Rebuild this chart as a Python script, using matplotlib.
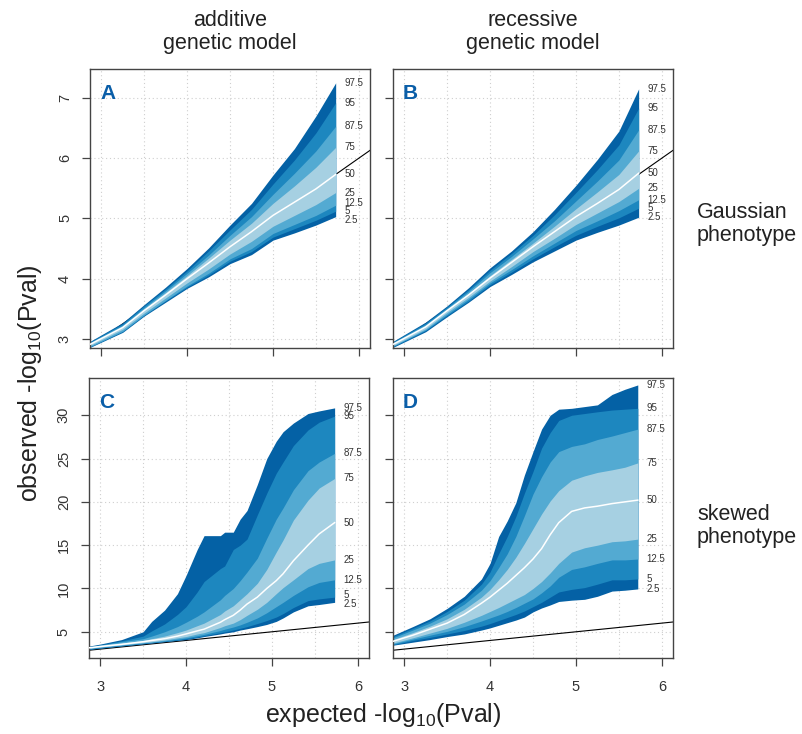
import matplotlib.pyplot as plt
import numpy as np

plt.rcParams['font.family'] = ['Liberation Sans', 'DejaVu Sans']
plt.rcParams['mathtext.fontset'] = 'custom'
plt.rcParams['mathtext.rm'] = 'Liberation Sans'

pct_names = ['97.5', '95', '87.5', '75', '50', '25', '12.5', '5', '2.5']
band_colors = ['#0461a5', '#1d87bf', '#53aad2', '#a6d0e2']
letter_color = '#0a5ea8'

# panel A: additive model, gaussian phenotype
a_x = [2.87, 3.25, 3.5, 3.75, 4.0, 4.25, 4.5, 4.75, 5.0, 5.25, 5.5, 5.73]
a_p975 = [2.96, 3.27, 3.57, 3.86, 4.17, 4.51, 4.89, 5.25, 5.72, 6.16, 6.70, 7.25]
a_p95 = [2.95, 3.25, 3.55, 3.83, 4.13, 4.46, 4.81, 5.15, 5.57, 5.97, 6.42, 6.92]
a_p875 = [2.94, 3.23, 3.52, 3.80, 4.09, 4.39, 4.72, 5.03, 5.40, 5.75, 6.12, 6.53]
a_p75 = [2.92, 3.21, 3.50, 3.77, 4.05, 4.34, 4.64, 4.92, 5.25, 5.54, 5.85, 6.18]
a_p50 = [2.91, 3.19, 3.47, 3.73, 4.00, 4.26, 4.53, 4.78, 5.05, 5.27, 5.49, 5.73]
a_p25 = [2.89, 3.16, 3.43, 3.68, 3.93, 4.16, 4.41, 4.62, 4.87, 5.05, 5.23, 5.43]
a_p125 = [2.87, 3.13, 3.40, 3.64, 3.88, 4.09, 4.33, 4.50, 4.75, 4.90, 5.05, 5.22]
a_p5 = [2.87, 3.12, 3.39, 3.63, 3.86, 4.06, 4.29, 4.45, 4.69, 4.83, 4.97, 5.12]
a_p025 = [2.86, 3.11, 3.38, 3.61, 3.84, 4.03, 4.25, 4.40, 4.64, 4.76, 4.89, 5.03]

# panel B: recessive model, gaussian phenotype
b_x = [2.87, 3.25, 3.5, 3.75, 4.0, 4.25, 4.5, 4.75, 5.0, 5.25, 5.5, 5.73]
b_p975 = [2.96, 3.28, 3.55, 3.85, 4.18, 4.46, 4.78, 5.15, 5.55, 5.98, 6.45, 7.15]
b_p95 = [2.95, 3.26, 3.53, 3.82, 4.14, 4.42, 4.72, 5.06, 5.43, 5.81, 6.22, 6.83]
b_p875 = [2.94, 3.24, 3.51, 3.79, 4.10, 4.37, 4.66, 4.96, 5.29, 5.62, 5.97, 6.47]
b_p75 = [2.92, 3.22, 3.49, 3.76, 4.05, 4.32, 4.59, 4.87, 5.16, 5.44, 5.73, 6.12]
b_p50 = [2.91, 3.20, 3.47, 3.73, 4.01, 4.27, 4.53, 4.78, 5.03, 5.25, 5.48, 5.75]
b_p25 = [2.89, 3.17, 3.44, 3.69, 3.96, 4.20, 4.45, 4.67, 4.90, 5.09, 5.28, 5.50]
b_p125 = [2.88, 3.15, 3.41, 3.66, 3.93, 4.15, 4.38, 4.59, 4.80, 4.96, 5.13, 5.31]
b_p5 = [2.87, 3.14, 3.39, 3.63, 3.90, 4.11, 4.33, 4.53, 4.72, 4.87, 5.01, 5.17]
b_p025 = [2.86, 3.12, 3.37, 3.61, 3.87, 4.07, 4.28, 4.46, 4.64, 4.77, 4.89, 5.02]

# panel C: additive model, skewed phenotype
c_x = [2.87, 3.0, 3.25, 3.5, 3.6, 3.75, 3.9, 4.0, 4.13, 4.21, 4.4, 4.45,
       4.55, 4.63, 4.71, 4.83, 4.94, 5.05, 5.13, 5.25, 5.42, 5.55, 5.73]
c_p975 = [3.35, 3.58, 4.1, 5.0, 6.2, 7.5, 9.4, 11.5, 14.5, 16.1, 16.1, 16.5,
          16.5, 18.0, 19.0, 22.0, 25.0, 27.0, 28.1, 29.1, 30.2, 30.5, 30.85]
c_p95 = [3.3, 3.5, 3.95, 4.5, 5.1, 5.9, 7.0, 7.9, 9.6, 10.8, 12.3, 12.6,
         14.5, 15.0, 15.7, 18.5, 21.0, 23.3, 24.6, 26.5, 28.3, 29.2, 29.9]
c_p875 = [3.25, 3.45, 3.85, 4.2, 4.5, 5.0, 5.6, 6.1, 6.8, 7.3, 8.7, 9.2,
          10.0, 10.9, 11.9, 13.5, 15.8, 18.0, 19.3, 21.4, 23.6, 24.6, 25.6]
c_p75 = [3.2, 3.4, 3.7, 4.0, 4.2, 4.5, 4.9, 5.2, 5.7, 6.0, 7.0, 7.4,
         8.0, 8.7, 9.4, 10.6, 12.2, 14.2, 15.6, 17.9, 20.2, 21.6, 22.7]
c_p50 = [3.15, 3.3, 3.55, 3.85, 4.0, 4.2, 4.5, 4.75, 5.1, 5.3, 6.1, 6.4,
         6.9, 7.5, 8.2, 9.0, 10.0, 10.9, 11.7, 13.2, 15.0, 16.3, 17.6]
c_p25 = [3.1, 3.25, 3.5, 3.75, 3.85, 4.05, 4.3, 4.45, 4.75, 4.9, 5.5, 5.7,
         6.0, 6.4, 6.9, 7.6, 8.4, 9.4, 10.1, 11.0, 12.3, 12.9, 13.3]
c_p125 = [3.05, 3.2, 3.45, 3.7, 3.8, 3.95, 4.15, 4.3, 4.55, 4.7, 5.15, 5.3,
          5.55, 5.8, 6.1, 6.6, 7.2, 7.9, 8.4, 9.2, 10.2, 10.7, 11.0]
c_p5 = [3.0, 3.15, 3.4, 3.65, 3.75, 3.9, 4.05, 4.2, 4.4, 4.55, 4.9, 5.0,
        5.2, 5.4, 5.6, 5.95, 6.3, 6.7, 7.1, 7.8, 8.6, 8.8, 9.0]
c_p025 = [2.95, 3.1, 3.35, 3.6, 3.7, 3.85, 4.0, 4.1, 4.3, 4.45, 4.75, 4.85,
          5.0, 5.2, 5.35, 5.6, 5.85, 6.2, 6.6, 7.3, 8.0, 8.15, 8.4]

# panel D: recessive model, skewed phenotype
d_x = [2.87, 3.1, 3.3, 3.5, 3.7, 3.9, 4.0, 4.1, 4.2, 4.3, 4.4, 4.5,
       4.6, 4.7, 4.8, 4.95, 5.1, 5.25, 5.42, 5.57, 5.72]
d_p975 = [4.6, 5.6, 6.5, 7.7, 9.1, 11.1, 12.9, 16.0, 17.8, 19.9, 23.1, 25.8,
          28.4, 30.0, 30.7, 30.8, 31.0, 31.2, 32.4, 33.0, 33.5]
d_p95 = [4.45, 5.4, 6.25, 7.35, 8.65, 10.5, 11.9, 14.0, 16.0, 18.3, 21.0, 23.5,
         26.2, 28.0, 29.4, 30.0, 30.2, 30.4, 30.6, 30.7, 30.8]
d_p875 = [4.3, 5.2, 6.0, 7.0, 8.2, 9.8, 10.9, 12.4, 14.0, 16.0, 18.4, 20.9,
          22.9, 24.6, 25.8, 26.4, 26.7, 27.2, 27.6, 28.0, 28.4]
d_p75 = [4.1, 4.9, 5.65, 6.5, 7.6, 9.0, 9.9, 11.0, 12.2, 13.6, 15.2, 16.9,
         18.6, 20.1, 21.3, 22.5, 23.0, 23.4, 23.7, 24.0, 24.5]
d_p50 = [3.9, 4.6, 5.3, 6.0, 7.0, 8.3, 9.0, 9.8, 10.6, 11.5, 12.4, 13.4,
         14.6, 16.2, 17.6, 18.9, 19.3, 19.5, 19.8, 20.0, 20.2]
d_p25 = [3.7, 4.3, 4.85, 5.4, 6.1, 6.9, 7.35, 7.8, 8.3, 8.8, 9.3, 10.0,
         10.8, 11.8, 12.9, 14.2, 14.7, 15.0, 15.4, 15.5, 15.7]
d_p125 = [3.6, 4.15, 4.6, 5.05, 5.6, 6.25, 6.6, 6.95, 7.35, 7.8, 8.3, 8.8,
          9.5, 10.3, 11.3, 12.2, 12.5, 12.9, 13.3, 13.3, 13.4]
d_p5 = [3.5, 4.0, 4.35, 4.75, 5.15, 5.65, 5.95, 6.3, 6.65, 7.0, 7.4, 7.9,
        8.4, 9.0, 9.6, 9.9, 10.1, 10.5, 11.0, 11.0, 11.1]
d_p025 = [3.45, 3.8, 4.1, 4.45, 4.75, 5.2, 5.45, 5.75, 6.05, 6.35, 6.7, 7.3,
          7.75, 8.1, 8.5, 8.65, 8.75, 9.1, 9.7, 9.8, 9.95]

xlim = (2.87, 6.13)
top_ylim = (2.85, 7.48)
bot_ylim = (1.97, 34.3)
top_yticks = [3, 4, 5, 6, 7]
bot_yticks = [5, 10, 15, 20, 25, 30]


def spread_labels(ys, gap):
    ys = list(ys)
    for _ in range(60):
        for i in range(len(ys) - 1):
            d = ys[i] - ys[i + 1]
            if d < gap:
                s = (gap - d) / 2
                ys[i] += s
                ys[i + 1] -= s
    return ys


def qq_panel(ax, x, curves, ylim, yticks, letter, xlab, ylab):
    ax.axline((3, 3), slope=1, color='black', lw=0.8, zorder=1)
    for k in range(4):
        ax.fill_between(x, curves[k], curves[8 - k], color=band_colors[k],
                        lw=0, zorder=2)
    ax.plot(x, curves[4], color='white', lw=1.1, zorder=3)

    ax.set_xlim(xlim)
    ax.set_ylim(ylim)
    ax.set_xticks([3, 4, 5, 6])
    ax.set_xticks(np.arange(3, 6.01, 0.5), minor=True)
    ax.set_yticks(yticks)
    ax.grid(True, which='both', axis='x', color='#cfcfcf', lw=0.8,
            linestyle=(0, (1, 2.5)), zorder=0)
    ax.grid(True, which='major', axis='y', color='#cfcfcf', lw=0.8,
            linestyle=(0, (1, 2.5)), zorder=0)
    ax.set_axisbelow(True)
    ax.tick_params(which='minor', length=0)
    ax.tick_params(which='major', direction='out', length=6, width=0.9,
                   color='#444444', labelsize=10.5, labelcolor='#333333')
    ax.tick_params(axis='x', pad=10, labelbottom=xlab)
    ax.tick_params(axis='y', pad=7, labelleft=ylab, labelrotation=90)
    for lab in ax.get_yticklabels():
        lab.set_va('center')
    for sp in ax.spines.values():
        sp.set_color('#444444')
        sp.set_linewidth(1.0)

    # percentile labels next to the band ends
    h_px = ax.get_position().height * ax.figure.get_figheight() * ax.figure.dpi
    gap = 8.5 * (ylim[1] - ylim[0]) / h_px
    ends = spread_labels([c[-1] for c in curves], gap)
    for name, yv in zip(pct_names, ends):
        ax.text(x[-1] + 0.1, yv, name, fontsize=7, color='#333333',
                ha='left', va='center', clip_on=False)

    ax.text(0.036, 0.912, letter, transform=ax.transAxes, fontsize=15,
            fontweight='bold', color=letter_color, ha='left', va='center')


fig = plt.figure(figsize=(8.03, 7.34), dpi=100)
ax_a = fig.add_axes([0.1121, 0.5259, 0.3487, 0.3801])
ax_b = fig.add_axes([0.4894, 0.5259, 0.3487, 0.3801])
ax_c = fig.add_axes([0.1108, 0.1035, 0.3487, 0.3815])
ax_d = fig.add_axes([0.4894, 0.1035, 0.3487, 0.3815])

qq_panel(ax_a, a_x, [a_p975, a_p95, a_p875, a_p75, a_p50, a_p25, a_p125, a_p5, a_p025],
         top_ylim, top_yticks, 'A', False, True)
qq_panel(ax_b, b_x, [b_p975, b_p95, b_p875, b_p75, b_p50, b_p25, b_p125, b_p5, b_p025],
         top_ylim, top_yticks, 'B', False, False)
qq_panel(ax_c, c_x, [c_p975, c_p95, c_p875, c_p75, c_p50, c_p25, c_p125, c_p5, c_p025],
         bot_ylim, bot_yticks, 'C', True, True)
qq_panel(ax_d, d_x, [d_p975, d_p95, d_p875, d_p75, d_p50, d_p25, d_p125, d_p5, d_p025],
         bot_ylim, bot_yticks, 'D', True, False)

txt = '#222222'
fig.text(0.2864, 0.956, 'additive\ngenetic model', ha='center', va='center',
         fontsize=15.5, color=txt, linespacing=1.15)
fig.text(0.6638, 0.956, 'recessive\ngenetic model', ha='center', va='center',
         fontsize=15.5, color=txt, linespacing=1.15)
fig.text(0.868, 0.695, 'Gaussian\nphenotype', ha='left', va='center',
         fontsize=15.5, color=txt, linespacing=1.15)
fig.text(0.868, 0.2834, 'skewed\nphenotype', ha='left', va='center',
         fontsize=15.5, color=txt, linespacing=1.15)
fig.text(0.477, 0.026, r'expected -log$_{\mathregular{10}}$(Pval)', ha='center',
         va='center', fontsize=18, color=txt)
fig.text(0.037, 0.478, r'observed -log$_{\mathregular{10}}$(Pval)', ha='center',
         va='center', fontsize=18, color=txt, rotation=90)

fig.savefig('out.png', dpi=100)
